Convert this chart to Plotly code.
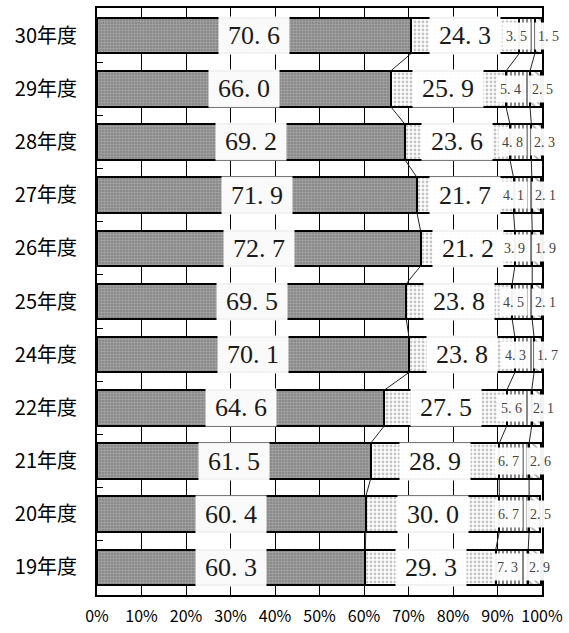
import plotly.graph_objects as go

# Survey years, listed from oldest (bottom) to newest (top)
years = ["19年度", "20年度", "21年度", "22年度", "24年度", "25年度",
         "26年度", "27年度", "28年度", "29年度", "30年度"]

# Share of responses (%) per category, same order as years
share_a = [60.3, 60.4, 61.5, 64.6, 70.1, 69.5, 72.7, 71.9, 69.2, 66.0, 70.6]
share_b = [29.3, 30.0, 28.9, 27.5, 23.8, 23.8, 21.2, 21.7, 23.6, 25.9, 24.3]
share_c = [7.3, 6.7, 6.7, 5.6, 4.3, 4.5, 3.9, 4.1, 4.8, 5.4, 3.5]
share_d = [2.9, 2.5, 2.6, 2.1, 1.7, 2.1, 1.9, 2.1, 2.3, 2.5, 1.5]

x_ticks = [0, 10, 20, 30, 40, 50, 60, 70, 80, 90, 100]
x_tick_labels = [f"{v}%" for v in x_ticks]

series = [share_a, share_b, share_c, share_d]
patterns = [
    dict(shape=".", bgcolor="#808080", fgcolor="#c6c6c6", size=3, solidity=0.6, fillmode="overlay"),
    dict(shape=".", bgcolor="#ffffff", fgcolor="#8c8c8c", size=4, solidity=0.4, fillmode="overlay"),
    dict(shape="|", bgcolor="#ffffff", fgcolor="#111111", size=4, solidity=0.5, fillmode="overlay"),
    dict(shape="\\", bgcolor="#ffffff", fgcolor="#555555", size=5, solidity=0.35, fillmode="overlay"),
]

BAR_W = 0.67
rows = list(range(len(years)))
SERIF = "Liberation Serif, Times New Roman, serif"

fig = go.Figure()

for vals, pat in zip(series, patterns):
    fig.add_trace(go.Bar(
        x=vals, y=rows, orientation="h", width=BAR_W,
        marker=dict(color=pat["bgcolor"], pattern=pat,
                    line=dict(color="#000000", width=2)),
        hoverinfo="skip", showlegend=False,
    ))

# cumulative boundaries of each segment
cums = []
run = [0.0] * len(years)
for vals in series:
    run = [r + v for r, v in zip(run, vals)]
    cums.append(list(run))

# series lines joining segment boundaries of neighbouring bars
lx, ly = [], []
for k in range(3):
    for i in range(len(years) - 1):
        lx += [cums[k][i], cums[k][i + 1], None]
        ly += [i + BAR_W / 2, i + 1 - BAR_W / 2, None]
fig.add_trace(go.Scatter(x=lx, y=ly, mode="lines",
                         line=dict(color="#222222", width=1),
                         hoverinfo="skip", showlegend=False))

def fmt(v):
    return f"{v:.1f}".replace(".", ". ")

annotations = []
PX_PER_PCT = 447 / 100.0
MIN_SEP = 32 / PX_PER_PCT
BOX_BG = "rgba(255,255,255,0.95)"
for i in range(len(years)):
    starts = [0.0] + [cums[k][i] for k in range(3)]
    centers = [s + v[i] / 2 for s, v in zip(starts, series)]
    # large labels on the two main segments
    for k in range(2):
        annotations.append(dict(
            x=centers[k] / 100, y=i, xref="paper", yref="y", text=fmt(series[k][i]),
            xanchor="center", yanchor="middle",
            showarrow=False, font=dict(family=SERIF, size=26, color="#1a1a1a"),
            bgcolor=BOX_BG, height=37, width=70, borderpad=0,
        ))
    # small labels spread apart so they do not overlap
    c3, c4 = centers[2], centers[3]
    gap = c4 - c3
    if gap < MIN_SEP:
        push = (MIN_SEP - gap) / 2
        c3 -= push
        c4 += push
    for k, cx in ((2, c3), (3, c4)):
        annotations.append(dict(
            x=cx / 100, y=i, xref="paper", yref="y", text=fmt(series[k][i]),
            xanchor="center", yanchor="middle",
            showarrow=False, font=dict(family=SERIF, size=14, color="#444444"),
            bgcolor=BOX_BG, height=26, width=27, borderpad=0,
        ))

fig.update_layout(
    barmode="stack",
    width=569, height=633,
    margin=dict(l=97, r=25, t=6, b=36),
    paper_bgcolor="#ffffff", plot_bgcolor="#ffffff",
    annotations=annotations,
    bargap=0,
)
fig.update_xaxes(
    range=[0, 100], tickvals=x_ticks, ticktext=x_tick_labels,
    showgrid=True, gridcolor="#000000", gridwidth=1, zeroline=False,
    showline=True, linecolor="#000000", linewidth=2, mirror=True,
    ticks="", ticklabelstandoff=6,
    tickfont=dict(family="Noto Sans CJK JP", size=16, color="#000000"),
)
fig.update_yaxes(
    range=[-0.52, len(years) - 1 + 0.52], tickvals=rows, ticktext=years,
    showgrid=False, zeroline=False,
    showline=True, linecolor="#000000", linewidth=2, mirror=True,
    ticks="", ticklabelstandoff=14,
    minor=dict(tickvals=[i + 0.5 for i in rows[:-1]], ticks="inside",
               ticklen=6, tickcolor="#000000", tickwidth=1),
    tickfont=dict(family="Noto Sans CJK JP", size=20, color="#000000"),
)

fig.write_html("out.html")
